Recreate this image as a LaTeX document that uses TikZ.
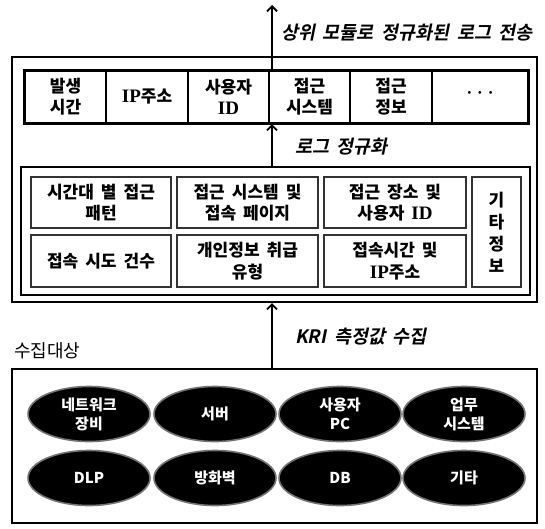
\documentclass[tikz,border=0pt]{standalone}
\usepackage{fontspec}
\setmainfont{Noto Sans CJK KR}[WordSpace=1.8]
\newfontfamily\cellfont{Noto Sans CJK KR}[WordSpace=1.8]
\newfontfamily\lblfont{Noto Sans CJK KR Bold}[FakeSlant=0.2,WordSpace=1.8]
\newfontfamily\serlat{Liberation Serif}
\newcommand{\lat}[1]{{\serlat\bfseries\fontsize{19}{21}\selectfont #1}}
\usetikzlibrary{arrows.meta,shapes.geometric}
\tikzset{
  bigbox/.style={draw=black,line width=2pt,inner sep=0pt},
  barcell/.style={draw=black,line width=1.3pt,inner sep=0pt,align=center,
    font=\fontsize{17}{21}\selectfont\cellfont\bfseries},
  infocell/.style={draw=black!80,line width=1.2pt,inner sep=0pt,align=center,
    font=\fontsize{17}{21.5}\selectfont\cellfont\bfseries},
  target/.style={ellipse,fill=black,draw=black!55,line width=1.6pt,
    minimum width=122pt,minimum height=55pt,inner sep=0pt,align=center,
    text=white,font=\fontsize{15}{19}\selectfont\bfseries},
  lbl/.style={anchor=west,inner sep=0pt,font=\fontsize{18.5}{22}\selectfont\lblfont},
  arr/.style={line width=1.8pt,-{Straight Barb[length=5pt,width=10pt,line width=1.8pt]}}
}
\begin{document}
\begin{tikzpicture}[x=1pt,y=-1pt]
\useasboundingbox (0,0) rectangle (545,528);
% outer box
\node[bigbox,minimum width=525pt,minimum height=245pt] (outer) at (274.5,179.5) {};
% top bar
\node[bigbox,minimum width=503pt,minimum height=52pt] (bar) at (276.5,97) {};
\node[barcell,minimum width=81pt,minimum height=52pt] (b1) at (65.5,97) {발생\\시간};
\node[barcell,minimum width=82pt,minimum height=52pt] (b2) at (147,97) {\lat{IP}주소};
\node[barcell,minimum width=81pt,minimum height=52pt] (b3) at (228.5,97) {사용자\\\lat{ID}};
\node[barcell,minimum width=81pt,minimum height=52pt] (b4) at (309.5,97) {접근\\시스템};
\node[barcell,minimum width=82pt,minimum height=52pt] (b5) at (391,97) {접근\\정보};
\node[barcell,minimum width=96pt,minimum height=52pt] (b6) at (480,97) {\raisebox{4pt}{\serlat\bfseries ·\hspace{5pt}·\hspace{5pt}·}};
\draw[bigbox] (bar.north west) rectangle (bar.south east);
% inner box
\node[bigbox,line width=2.4pt,minimum width=509pt,minimum height=128pt] (inner) at (275.5,231) {};
\node[infocell,minimum width=140pt,minimum height=51pt] (i1) at (101,202.5) {시간대 별 접근\\패턴};
\node[infocell,minimum width=141pt,minimum height=51pt] (i2) at (247.5,202.5) {접근 시스템 및\\접속 페이지};
\node[infocell,minimum width=142pt,minimum height=51pt] (i3) at (395,202.5) {접근 장소 및\\사용자 \lat{ID}};
\node[infocell,minimum width=140pt,minimum height=52pt] (i4) at (101,261) {접속 시도 건수};
\node[infocell,minimum width=141pt,minimum height=52pt] (i5) at (247.5,261) {개인정보 취급\\유형};
\node[infocell,minimum width=142pt,minimum height=52pt] (i6) at (395,261) {접속시간 및\\\lat{IP}주소};
\node[infocell,minimum width=49pt,minimum height=110pt,font=\fontsize{17}{22}\selectfont\cellfont\bfseries] (i7) at (496.5,232) {기\\타\\정\\보};
% bottom box
\node[bigbox,minimum width=525pt,minimum height=154pt] (bottom) at (274.5,446) {};
\node[target] (e1) at (89,414) {네트워크\\장비};
\node[target] (e2) at (215,414) {서버};
\node[target] (e3) at (340,414) {사용자\\PC};
\node[target] (e4) at (464,414) {업무\\시스템};
\node[target] (e5) at (89,478) {DLP};
\node[target] (e6) at (215,478) {방화벽};
\node[target] (e7) at (340,478) {DB};
\node[target] (e8) at (464,478) {기타};
% arrows
\coordinate (top) at (272,5);
\draw[arr] (top |- bar.north) -- (top);
\draw[arr] (top |- inner.north) -- (top |- bar.south);
\draw[arr] (top |- bottom.north) -- (top |- outer.south);
% labels
\node[lbl] (l1) at (281,33) {상위 모듈로 정규화된 로그 전송};
\node[lbl] (l2) at (295,147) {로그 정규화};
\node[lbl] (l3) at (295,337) {KRI 측정값 수집};
\node[anchor=west,inner sep=0pt,font=\fontsize{18}{20}\selectfont] (l4) at (14,351) {수집대상};
\end{tikzpicture}
\end{document}
